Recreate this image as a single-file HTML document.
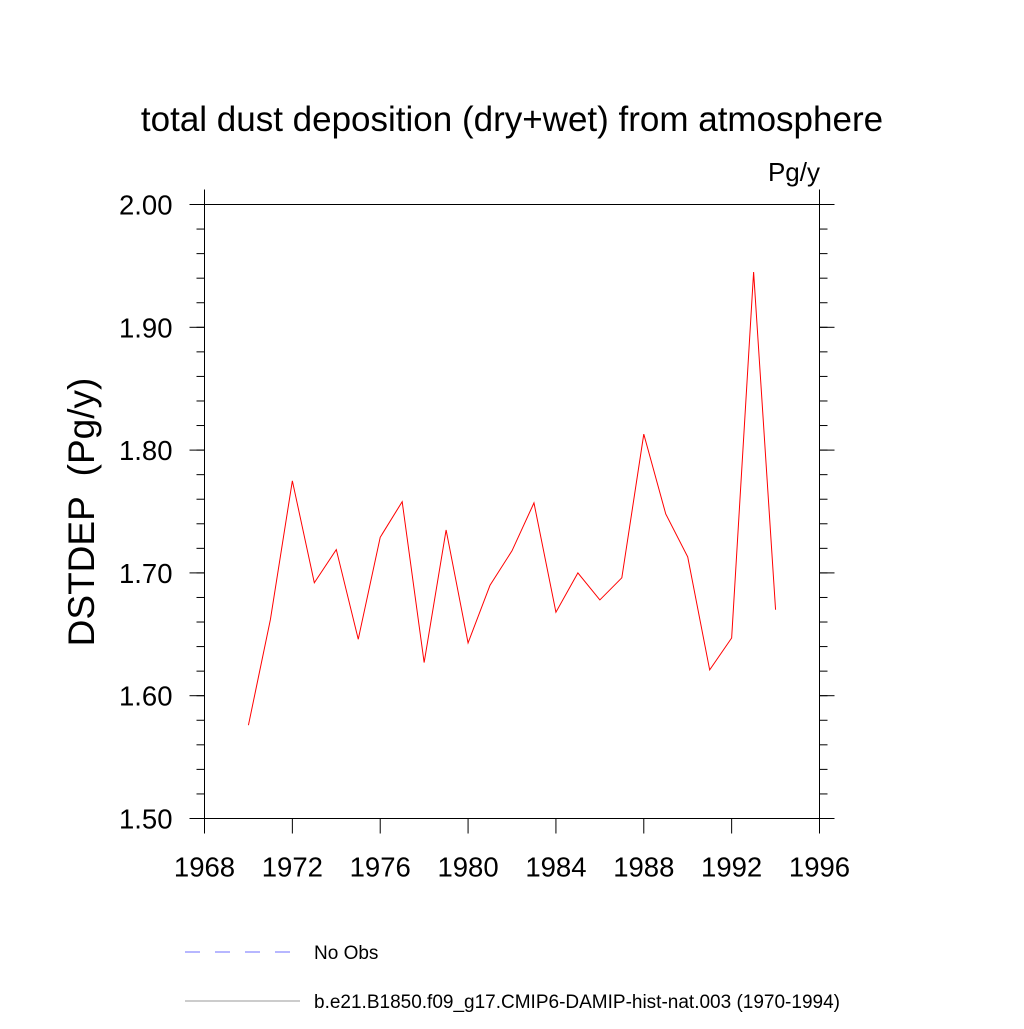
<!DOCTYPE html>
<html><head><meta charset="utf-8"><style>
body{margin:0;background:#fff}
svg text{font-family:"Liberation Sans",sans-serif;fill:#000}
</style></head><body>
<svg id="chart" width="1024" height="1024" xmlns="http://www.w3.org/2000/svg">
<rect width="1024" height="1024" fill="#fff"/>
<text x="512" y="131" font-size="35" text-anchor="middle">total dust deposition (dry+wet) from atmosphere</text>
<text x="820" y="181" font-size="26" text-anchor="end">Pg/y</text>
<text transform="translate(94,512) rotate(-90)" font-size="37" text-anchor="middle" style="white-space:pre">DSTDEP  (Pg/y)</text>
<g id="axes"></g>
<polyline id="series" fill="none" stroke="#ff0000" stroke-width="1"/>
<line x1="185" y1="952" x2="292" y2="952" stroke="#6f6fff" stroke-width="1" stroke-dasharray="15,15"/>
<text x="314" y="959" font-size="19">No Obs</text>
<line x1="185" y1="1001" x2="300" y2="1001" stroke="#999" stroke-width="1"/>
<text x="314" y="1008" font-size="19">b.e21.B1850.f09_g17.CMIP6-DAMIP-hist-nat.003 (1970-1994)</text>
</svg>
<script>
const years=[1970,1971,1972,1973,1974,1975,1976,1977,1978,1979,1980,1981,1982,1983,1984,1985,1986,1987,1988,1989,1990,1991,1992,1993,1994];
const values=[1.576,1.662,1.775,1.692,1.719,1.646,1.729,1.758,1.627,1.735,1.643,1.690,1.718,1.757,1.668,1.700,1.678,1.696,1.813,1.748,1.713,1.621,1.647,1.945,1.670];
const xTicks=[1968,1972,1976,1980,1984,1988,1992,1996];
const yTicks=[1.50,1.60,1.70,1.80,1.90,2.00];
const X0=204.5,X1=819.5,Y0=818.5,Y1=204.5;
const xs=v=>X0+(v-1968)/(1996-1968)*(X1-X0);
const ys=v=>Y0-(v-1.5)/(2.0-1.5)*(Y0-Y1);
const NS='http://www.w3.org/2000/svg';
const g=document.getElementById('axes');
function ln(x1,y1,x2,y2,name,w){const l=document.createElementNS(NS,'line');
l.setAttribute('x1',x1);l.setAttribute('y1',y1);l.setAttribute('x2',x2);l.setAttribute('y2',y2);
l.setAttribute('stroke','#000');l.setAttribute('stroke-width',w||1);


g.appendChild(l);}
function tx(x,y,s,anchor,name){const t=document.createElementNS(NS,'text');
t.setAttribute('x',x);t.setAttribute('y',y);t.setAttribute('font-size','27.5');t.setAttribute('text-anchor',anchor);t.textContent=s;


g.appendChild(t);}
ln(X0,Y1,X1,Y1,'plot-frame-top');ln(X0,Y0,X1,Y0,'plot-frame-bottom');
ln(X0,Y1-15,X0,Y0+15,'plot-frame-left');ln(X1,Y1-15,X1,Y0+15,'plot-frame-right');
for(let v=1.5;v<=2.0001;v+=0.02){const y=ys(v);ln(X0-8,y,X0,y,'y-minor-tick');ln(X1,y,X1+8,y,'y-minor-tick');}
yTicks.forEach(v=>{const y=ys(v);ln(X0-15,y,X0,y,'y-major-tick');ln(X1,y,X1+15,y,'y-major-tick');
tx(X0-32,y+10,v.toFixed(2),'end','y-tick-label');});
xTicks.forEach(v=>{const x=xs(v);ln(x,Y0,x,Y0+15,'x-major-tick');
tx(x,Y0+58,String(v),'middle','x-tick-label');});
document.getElementById('series').setAttribute('points',years.map((y,i)=>xs(y)+','+ys(values[i])).join(' '));
</script>
</body></html>
